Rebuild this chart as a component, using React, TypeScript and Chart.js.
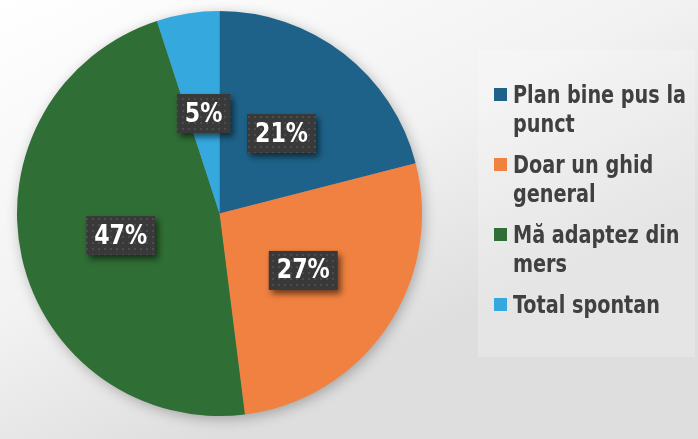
import React, { useEffect, useRef } from "react";
import { Chart, registerables } from "chart.js";
Chart.register(...registerables);

const categories: string[][] = [
  ["Plan bine pus la", "punct"],
  ["Doar un ghid", "general"],
  ["Mă adaptez din", "mers"],
  ["Total spontan"],
];
const values = [21, 27, 47, 5];
const valueLabels = ["21%", "27%", "47%", "5%"];
const colors = ["#1e6289", "#f08140", "#2f6e34", "#35a8dd"];

const FONT = '"DejaVu Sans Condensed", "Open Sans", sans-serif';

function makePattern(ctx: CanvasRenderingContext2D) {
  const c = document.createElement("canvas");
  c.width = 6;
  c.height = 6;
  const p = c.getContext("2d")!;
  p.fillStyle = "#3a3939";
  p.fillRect(0, 0, 6, 6);
  p.fillStyle = "#4d4c4c";
  p.fillRect(2, 2, 2, 2);
  return ctx.createPattern(c, "repeat");
}

const bgPlugin = {
  id: "bg",
  beforeDraw(chart: any) {
    const { ctx, width, height } = chart;
    ctx.save();
    const g = ctx.createLinearGradient(0, 0, width * 0.3, height);
    g.addColorStop(0, "#ffffff");
    g.addColorStop(0.6, "#f2f2f2");
    g.addColorStop(1, "#dedede");
    ctx.fillStyle = g;
    ctx.fillRect(0, 0, width, height);
    ctx.fillStyle = "rgba(255,255,255,0.22)";
    ctx.fillRect(478, 50, 217, 307);
    ctx.restore();
  },
  beforeDatasetsDraw(chart: any) {
    const arc = chart.getDatasetMeta(0).data[0];
    if (!arc) return;
    const { ctx } = chart;
    ctx.save();
    ctx.shadowColor = "rgba(0,0,0,0.3)";
    ctx.shadowBlur = 14;
    ctx.shadowOffsetX = 2;
    ctx.shadowOffsetY = 3;
    ctx.fillStyle = "#888";
    ctx.beginPath();
    ctx.arc(arc.x, arc.y, arc.outerRadius - 1, 0, Math.PI * 2);
    ctx.fill();
    ctx.restore();
  },
};

function squeezedText(ctx: CanvasRenderingContext2D, txt: string, x: number, y: number, sx: number) {
  ctx.save();
  ctx.translate(x, y);
  ctx.scale(sx, 1);
  ctx.fillText(txt, 0, 0);
  ctx.restore();
}

const labelPlugin = {
  id: "boxLabels",
  afterDatasetsDraw(chart: any) {
    const { ctx } = chart;
    const meta = chart.getDatasetMeta(0);
    const pattern = makePattern(ctx);
    ctx.save();
    ctx.font = `bold 27px ${FONT}`;
    ctx.textAlign = "center";
    ctx.textBaseline = "middle";
    const sx = 53 / ctx.measureText("21%").width;
    meta.data.forEach((arc: any, i: number) => {
      const pt = arc.getCenterPoint();
      const txt = valueLabels[i];
      const w = ctx.measureText(txt).width * sx + 16;
      const h = 39;
      ctx.save();
      ctx.shadowColor = "rgba(0,0,0,0.55)";
      ctx.shadowBlur = 6;
      ctx.shadowOffsetX = 3;
      ctx.shadowOffsetY = 4;
      ctx.fillStyle = pattern || "#3a3939";
      ctx.fillRect(pt.x - w / 2, pt.y - h / 2, w, h);
      ctx.restore();
      ctx.fillStyle = "#ffffff";
      squeezedText(ctx, txt, pt.x, pt.y + 1, sx);
    });
    ctx.restore();
  },
};

const legendPlugin = {
  id: "sideLegend",
  afterDraw(chart: any) {
    const { ctx } = chart;
    const labels = chart.data.labels as string[][];
    const bg = chart.data.datasets[0].backgroundColor as string[];
    ctx.save();
    ctx.font = `bold 25px ${FONT}`;
    ctx.textAlign = "left";
    ctx.textBaseline = "alphabetic";
    const sx = 173 / ctx.measureText(labels[0][0]).width;
    let base = 103;
    labels.forEach((lines, i) => {
      ctx.fillStyle = bg[i];
      ctx.fillRect(494, base - 15, 13, 13);
      ctx.fillStyle = "#404040";
      lines.forEach((ln, j) => {
        squeezedText(ctx, ln, 513, base + j * 29, sx);
      });
      base += 70;
    });
    ctx.restore();
  },
};

export default function App() {
  const ref = useRef<HTMLCanvasElement>(null);
  useEffect(() => {
    const chart = new Chart(ref.current!, {
      type: "pie",
      data: {
        labels: categories as any,
        datasets: [
          {
            data: values,
            backgroundColor: colors,
            borderWidth: 0,
          },
        ],
      },
      options: {
        responsive: false,
        animation: false,
        layout: { padding: { left: 17, right: 276, top: 11, bottom: 23 } },
        plugins: {
          legend: { display: false },
          tooltip: { enabled: false },
        },
      },
      plugins: [bgPlugin, labelPlugin, legendPlugin],
    });
    return () => chart.destroy();
  }, []);
  return (
    <div style={{ position: "absolute", left: 0, top: 0, width: 698, height: 439 }}>
      <canvas ref={ref} width={698} height={439} />
    </div>
  );
}
